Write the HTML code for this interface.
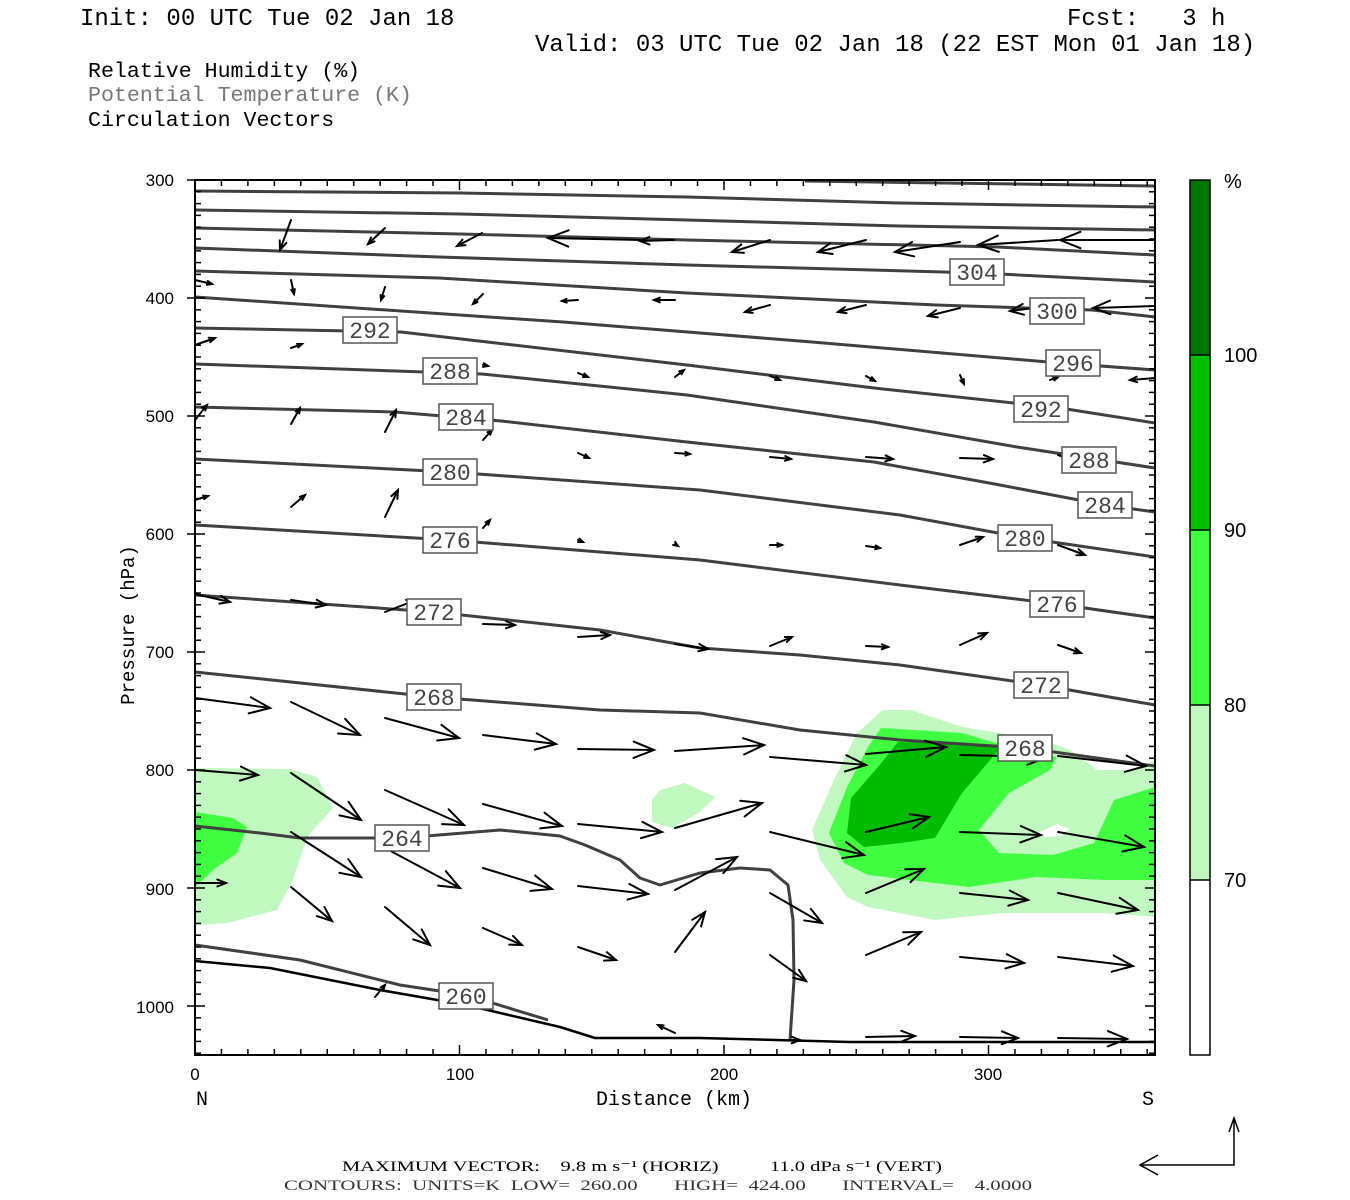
<!DOCTYPE html>
<html><head><meta charset="utf-8"><style>
html,body{margin:0;padding:0;background:#fff;width:1350px;height:1200px;overflow:hidden}
svg{display:block}
text{white-space:pre}
.t{font-family:"Liberation Mono",monospace;}
.s{font-family:"Liberation Sans",sans-serif;}
.r{font-family:"Liberation Serif",serif;}
</style></head><body>
<svg id="svg" width="1350" height="1200" xmlns="http://www.w3.org/2000/svg" xml:space="preserve">
<rect width="1350" height="1200" fill="#fff"/>
<text class="t" x="80" y="25" font-size="24">Init: 00 UTC Tue 02 Jan 18</text>
<text class="t" x="1067" y="25" font-size="24">Fcst:   3 h</text>
<text class="t" x="535" y="51" font-size="24">Valid: 03 UTC Tue 02 Jan 18 (22 EST Mon 01 Jan 18)</text>
<text class="t" x="88" y="77" font-size="21.6">Relative Humidity (%)</text>
<text class="t" x="88" y="101" font-size="21.6" fill="#777">Potential Temperature (K)</text>
<text class="t" x="88" y="126" font-size="21.6">Circulation Vectors</text>

<g id="shade">
<polygon fill="#c0f8c0" points="857,733 883,710 911,710 962,727 1043,740 1070,750 1097,770 1138,770 1155,760 1155,917 1104,913 1003,913 935,920 868,907 847,897 820,860 812,830 834,780"/>
<polygon fill="#40ff40" points="868,747 881,728 962,733 1009,747 1057,757 1050,770 1009,793 979,830 999,853 1053,855 1094,843 1114,800 1155,787 1155,880 1104,880 1036,877 969,887 935,883 868,875 844,863 829,833 847,787"/>
<polygon fill="#c0f8c0" points="979,830 1036,835 1057,823 1070,828 1090,842 1053,853 999,852"/>
<polygon fill="#ffffff" points="1036,834 1057,824 1070,829 1060,836 1045,837"/>
<polygon fill="#00bb00" points="878,767 898,742 1003,745 962,793 935,838 901,843 864,847 847,833 851,798"/>
<polygon fill="#c0f8c0" points="195,768 290,769 317,777 333,808 307,837 293,880 277,910 227,923 195,925"/>
<polygon fill="#40ff40" points="195,812 233,818 247,827 237,853 213,870 195,887"/>
<polygon fill="#c0f8c0" points="660,790 685,783 715,797 700,812 672,828 652,822 652,800"/>
</g>
<g id="cont" fill="none" stroke="#404040" stroke-width="3" stroke-linejoin="round"></g>
<g id="vec" stroke="#000" stroke-width="2" fill="none" stroke-linecap="round"></g>
<g id="labs"></g>
<rect x="195" y="180" width="960" height="875" fill="none" stroke="#000" stroke-width="2"/>
<g id="ticks" stroke="#000" stroke-width="1.5"></g>
<g class="s" font-size="17" text-anchor="end">
<text x="174" y="186">300</text><text x="174" y="304">400</text><text x="174" y="422">500</text><text x="174" y="540">600</text><text x="174" y="658">700</text><text x="174" y="776">800</text><text x="174" y="895">900</text><text x="174" y="1013">1000</text>
</g>
<g class="s" font-size="17" text-anchor="middle">
<text x="195" y="1080">0</text><text x="460" y="1080">100</text><text x="724" y="1080">200</text><text x="988" y="1080">300</text>
</g>
<text class="t" x="202" y="1105" font-size="20" text-anchor="middle">N</text>
<text class="t" x="1148" y="1105" font-size="20" text-anchor="middle">S</text>
<text class="t" x="674" y="1105" font-size="20" text-anchor="middle">Distance (km)</text>
<text class="t" x="0" y="0" font-size="19" text-anchor="middle" transform="translate(134,625) rotate(-90)">Pressure (hPa)</text>

<rect x="1190" y="180" width="20" height="175" fill="#007800"/>
<rect x="1190" y="355" width="20" height="175" fill="#00c000"/>
<rect x="1190" y="530" width="20" height="175" fill="#40ff40"/>
<rect x="1190" y="705" width="20" height="175" fill="#c0f8c0"/>
<rect x="1190" y="880" width="20" height="175" fill="#fff"/>
<rect x="1190" y="180" width="20" height="875" fill="none" stroke="#000" stroke-width="1.5"/>
<g stroke="#000" stroke-width="1.5"><line x1="1190" y1="355" x2="1210" y2="355"/><line x1="1190" y1="530" x2="1210" y2="530"/><line x1="1190" y1="705" x2="1210" y2="705"/><line x1="1190" y1="880" x2="1210" y2="880"/></g>
<g class="s" font-size="20">
<text x="1224" y="188">%</text><text x="1224" y="362">100</text><text x="1224" y="537">90</text><text x="1224" y="712">80</text><text x="1224" y="887">70</text>
</g>
<g class="r" font-size="15">
<text x="342" y="1171" textLength="600" lengthAdjust="spacingAndGlyphs">MAXIMUM VECTOR:    9.8 m s⁻¹ (HORIZ)          11.0 dPa s⁻¹ (VERT)</text>
<text x="284" y="1190" fill="#333" textLength="748" lengthAdjust="spacingAndGlyphs">CONTOURS:  UNITS=K  LOW=  260.00       HIGH=  424.00       INTERVAL=    4.0000</text>
</g>
<g stroke="#000" stroke-width="1.5" fill="none">
<polyline points="1140,1165 1234,1165 1234,1118"/>
<polyline points="1158,1155 1140,1165 1158,1175"/>
<polyline points="1229,1132 1234,1118 1239,1132"/>
</g>
</svg>
<script>
const NS="http://www.w3.org/2000/svg";
function el(p,t,a){const e=document.createElementNS(NS,t);for(const k in a)e.setAttribute(k,a[k]);p.appendChild(e);return e;}
const cont=document.getElementById('cont');
const lines=[
[[805,181],[1155,186]],
[[195,191],[460,193],[687,197],[900,203],[1155,207]],
[[195,210],[460,214],[687,220],[900,226],[1155,230]],
[[195,228],[460,234],[687,240],[998,247],[1155,255]],
[[195,248],[439,257],[687,265],[980,273],[1155,282]],
[[195,271],[439,278],[687,293],[936,305],[1092,310],[1155,317]],
[[195,297],[563,322],[812,342],[1060,363],[1155,370]],
[[195,328],[401,332],[687,365],[874,388],[1060,408],[1155,423]],
[[195,364],[482,374],[687,395],[874,422],[1017,447],[1155,468]],
[[195,407],[395,412],[501,421],[687,442],[874,462],[1000,485],[1105,505],[1155,512]],
[[195,459],[450,472],[700,490],[900,515],[1025,538],[1155,557]],
[[195,525],[450,540],[700,560],[900,585],[1057,604],[1155,618]],
[[195,595],[434,612],[600,630],[700,648],[800,655],[900,665],[1041,685],[1155,705]],
[[195,672],[434,697],[600,710],[700,713],[800,730],[900,740],[1025,748],[1155,766]],
[[195,826],[260,833],[300,838],[402,838],[500,830],[560,836],[585,845],[620,860],[640,878],[660,885],[700,873],[740,868],[770,870],[788,885],[793,920],[794,980],[790,1040]],
[[195,945],[300,960],[400,985],[466,995],[548,1020]]
];
lines.forEach(l=>el(cont,'polyline',{points:l.map(p=>p.join(',')).join(' ')}));
el(cont,'polyline',{points:"195,961 270,968 380,990 466,1005 560,1027 595,1038 700,1038 850,1042 1155,1042",stroke:"#000","stroke-width":2.5});
const labs=document.getElementById('labs');
[[977,272,304],[1057,311,300],[1073,363,296],[1041,409,292],[1089,460,288],[1105,505,284],[1025,538,280],[1057,604,276],[1041,685,272],[1025,748,268],[370,330,292],[450,371,288],[466,417,284],[450,472,280],[450,540,276],[434,612,272],[434,697,268],[402,838,264],[466,996,260]].forEach(([x,y,v])=>{
el(labs,'rect',{x:x-27,y:y-13,width:54,height:26,fill:"#fff",stroke:"#555","stroke-width":1.5});
const t=el(labs,'text',{x:x,y:y+8,"text-anchor":"middle","font-size":23,fill:"#444","font-family":"Liberation Mono, monospace"});t.textContent=v;});
const vec=document.getElementById('vec');
const A=[
[291,220,280,250],[385,228,368,244],[482,233,457,246],[640,240,548,238],[674,240,640,241],[770,240,732,252],[866,240,818,252],[960,242,895,252],[1058,240,978,245],[1155,240,1060,240],
[195,280,212,284],[291,280,294,294],[385,287,381,300],[483,294,473,304],[578,300,562,301],[675,300,654,300],[770,305,745,312],[866,305,838,312],[960,308,928,316],[1058,305,1010,311],[1155,306,1093,308],
[195,345,215,338],[291,348,302,344],[483,365,488,366],[578,373,588,377],[675,377,684,370],[770,376,780,380],[866,376,875,381],[960,375,964,384],[1050,380,1058,377],[1155,378,1130,380],
[195,420,207,405],[291,424,300,408],[385,432,396,410],[483,440,492,430],[578,453,589,458],[675,453,690,454],[770,457,791,459],[866,457,893,459],[960,458,993,459],[1058,455,1095,470],
[195,500,208,496],[291,507,305,495],[385,517,398,490],[483,528,490,520],[578,540,583,542],[675,544,678,546],[770,545,782,545],[866,546,880,548],[960,545,983,537],[1058,545,1085,555],
[195,594,230,602],[291,600,326,605],[385,612,416,600],[483,624,515,625],[578,637,610,635],[675,644,708,649],[770,646,792,637],[866,646,888,647],[960,645,987,633],[1058,645,1081,653],
[195,698,270,708],[291,702,360,735],[385,718,459,738],[483,735,556,744],[578,749,654,750],[675,751,764,745],[770,757,866,765],[866,754,946,747],[960,755,1048,757],[1058,756,1146,766],
[195,770,258,775],[291,773,361,820],[385,790,464,825],[483,804,562,826],[578,824,662,832],[675,828,762,803],[770,832,864,855],[866,832,929,817],[960,832,1041,835],[1058,832,1144,847],
[195,883,226,883],[291,832,361,877],[385,848,460,888],[483,868,552,889],[578,886,648,894],[675,890,737,857],[770,893,822,923],[866,893,924,869],[960,893,1028,900],[1058,893,1138,910],
[291,887,332,921],[385,907,430,945],[483,928,522,945],[578,947,616,960],[675,952,705,912],[770,955,806,981],[866,955,921,932],[960,957,1024,963],[1058,957,1133,966],
[375,997,385,985],[675,1033,658,1025],[770,1040,800,1040],[866,1037,915,1036],[960,1037,1018,1038],[1058,1038,1127,1039]
];
A.forEach(([x1,y1,x2,y2])=>{
const dx=x2-x1,dy=y2-y1,L=Math.hypot(dx,dy);if(L<1)return;
const h=Math.min(22,Math.max(5,L*0.3));const ang=Math.atan2(dy,dx);
const a1=ang+Math.PI-0.38,a2=ang+Math.PI+0.38;
el(vec,'polyline',{points:`${x1},${y1} ${x2},${y2}`});
el(vec,'polyline',{points:`${x2+h*Math.cos(a1)},${y2+h*Math.sin(a1)} ${x2},${y2} ${x2+h*Math.cos(a2)},${y2+h*Math.sin(a2)}`});
});
const tk=document.getElementById('ticks');
for(let p=300;p<=1040;p+=10){const y=180+(p-300)*1.18;const L=(p%100==0)?10:6;
el(tk,'line',{x1:195,y1:y,x2:195+L,y2:y});el(tk,'line',{x1:1155,y1:y,x2:1155-L,y2:y});el(tk,'line',{x1:195,y1:y,x2:195-(p%100==0?8:0),y2:y});}
for(let d=0;d<=360;d+=10){const x=195+d*2.645;const L=(d%100==0)?10:6;
el(tk,'line',{x1:x,y1:1055,x2:x,y2:1055-L});el(tk,'line',{x1:x,y1:180,x2:x,y2:180+L});}
</script>
</body></html>
